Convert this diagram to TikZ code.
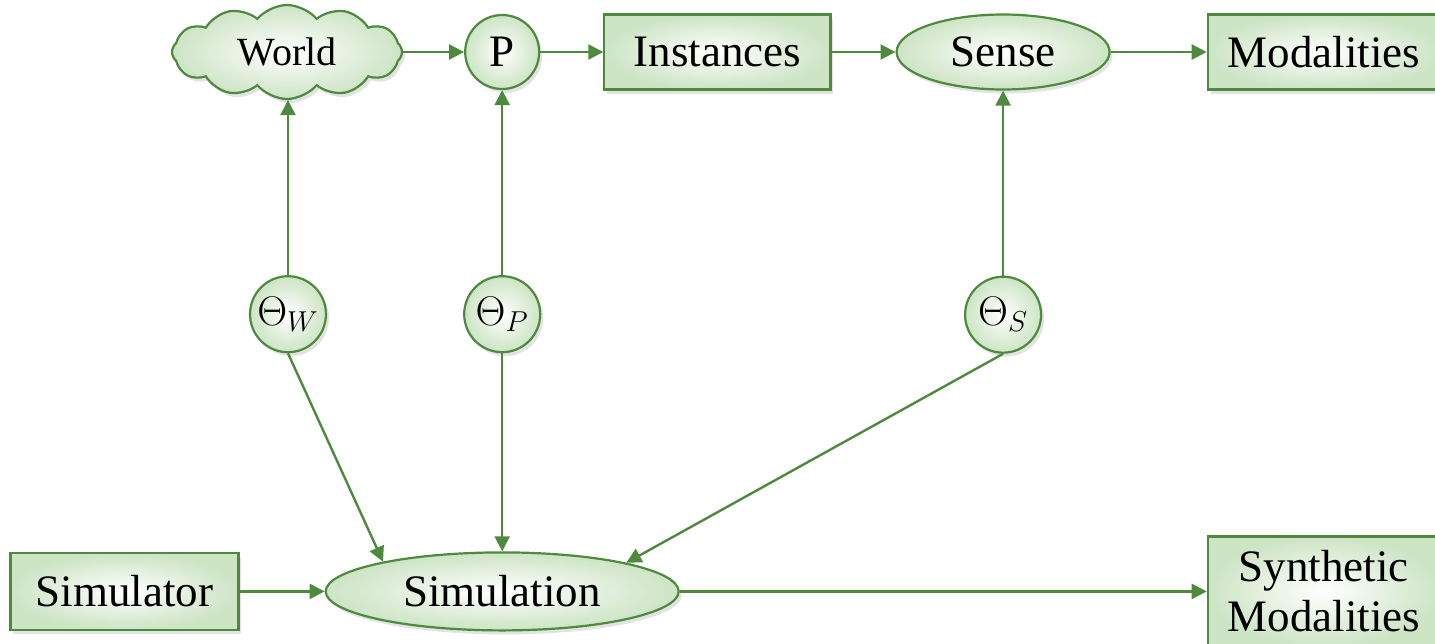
\documentclass[tikz,border=0pt]{standalone}
\usepackage{fontspec}
\setmainfont{Liberation Serif}
\usepackage{xcolor}
\usepackage{tikz}
\usetikzlibrary{arrows.meta,positioning,shapes.geometric,shapes.symbols,shadows}
\definecolor{leaf}{HTML}{4E8A3E}
\definecolor{mint}{HTML}{CDE4C5}
\tikzset{
  base/.style={
    draw=leaf,
    line width=1.1pt,
    inner color=white,
    outer color=mint,
    drop shadow={opacity=0.22, shadow xshift=1.5pt, shadow yshift=-2pt},
    align=center,
    inner sep=1pt,
    font=\fontsize{22.5}{24}\selectfont
  },
  box/.style={base, rectangle, minimum width=116pt, minimum height=37.5pt},
  oval/.style={base, ellipse, minimum width=106.5pt, minimum height=37.5pt},
  knob/.style={base, circle, minimum size=37pt},
  puff/.style={base, cloud, cloud puffs=12, cloud puff arc=100, aspect=2.6,
    minimum width=115pt, minimum height=47pt, font=\fontsize{20}{22}\selectfont},
  arrow/.style={-{Triangle[length=7.5pt,width=7.5pt]}, line width=1.2pt, draw=leaf}
}
\begin{document}
\begin{tikzpicture}[node distance=30pt and 30pt]

\useasboundingbox (0,0) rectangle (717.5pt,-321.5pt);

\node[puff] (world) at (143.5pt,-26pt) {World};

\node[knob, right=30.5pt of world] (p) {P};

\node[box, minimum width=113pt, right=31.5pt of p] (instances) {Instances};

\node[oval, right=32pt of instances] (sense) {Sense};

\node[box, right=48pt of sense] (modalities) {Modalities};

\node[knob, minimum size=38pt, below=92.5pt of p] (thetaP) {$\Theta_P$};

\node[knob, minimum size=38pt, left=68pt of thetaP] (thetaW) {$\Theta_W$};

\node[knob, minimum size=38pt, below=92.5pt of sense] (thetaS) {$\Theta_S$};

\node[oval, minimum width=176.5pt, minimum height=39pt, below=99pt of thetaP] (simulation) {Simulation};

\node[box, minimum width=114pt, minimum height=38.5pt, left=42.5pt of simulation] (simulator) {Simulator};

\node[box, minimum height=55pt, font=\fontsize{22.5}{25}\selectfont] (synthetic) at (modalities |- simulation) {Synthetic\\Modalities};

\draw[arrow] (world) -- (p);
\draw[arrow] (p) -- (instances);
\draw[arrow] (instances) -- (sense);
\draw[arrow] (sense) -- (modalities);
\draw[arrow] (thetaW) -- (thetaW |- world.south);
\draw[arrow] (thetaP) -- (p);
\draw[arrow] (thetaS) -- (sense);
\draw[arrow] (thetaW.south) -- (simulation.166);
\draw[arrow] (thetaP) -- (simulation);
\draw[arrow] (thetaS.south) -- (simulation.13);
\draw[arrow] (simulator) -- (simulation);
\draw[arrow] (simulation) -- (synthetic);

\end{tikzpicture}
\end{document}
